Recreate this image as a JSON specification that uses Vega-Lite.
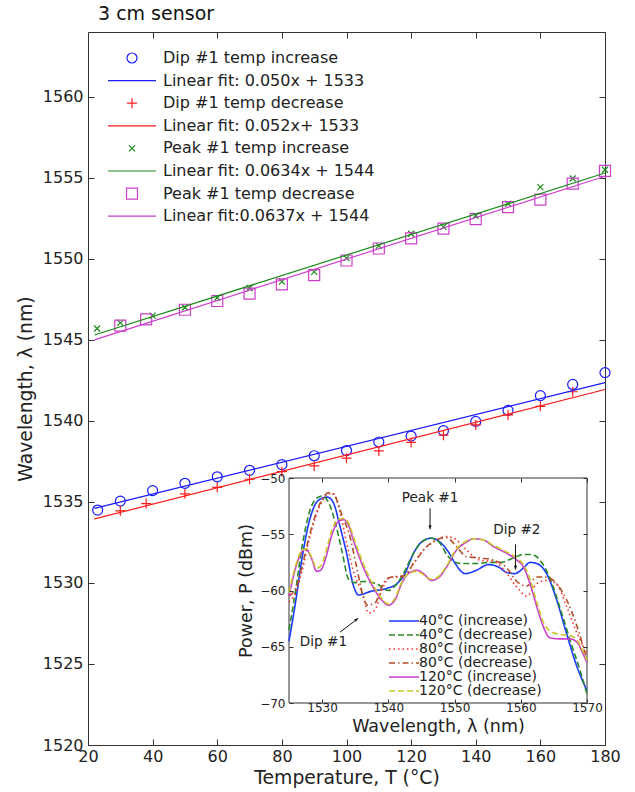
{
  "$schema": "https://vega.github.io/schema/vega-lite/v6.json",
  "autosize": "none",
  "width": 517,
  "height": 713,
  "padding": {"left": 88, "top": 32, "right": 30, "bottom": 47},
  "background": "white",
  "title": {"text": "3 cm sensor", "anchor": "start", "frame": "group", "fontSize": 19, "fontWeight": "normal", "font": "DejaVu Sans", "color": "#111", "dx": 10, "offset": 8},
  "config": {
    "font": "DejaVu Sans",
    "view": {"stroke": "#333", "strokeWidth": 1},
    "axis": {"grid": false, "labelFont": "DejaVu Sans", "titleFont": "DejaVu Sans", "labelColor": "#222", "titleColor": "#222", "tickColor": "#333", "titleFontWeight": "normal", "labelFlush": false, "labelOverlap": false},
    "legend": {"labelFont": "DejaVu Sans"}
  },
  "datasets": {
    "pts": [
      {"T": 23, "L": 1534.5, "s": "Dip #1 temp increase"},
      {"T": 30, "L": 1535.05, "s": "Dip #1 temp increase"},
      {"T": 40, "L": 1535.7, "s": "Dip #1 temp increase"},
      {"T": 50, "L": 1536.15, "s": "Dip #1 temp increase"},
      {"T": 60, "L": 1536.55, "s": "Dip #1 temp increase"},
      {"T": 70, "L": 1536.95, "s": "Dip #1 temp increase"},
      {"T": 80, "L": 1537.3, "s": "Dip #1 temp increase"},
      {"T": 90, "L": 1537.85, "s": "Dip #1 temp increase"},
      {"T": 100, "L": 1538.17, "s": "Dip #1 temp increase"},
      {"T": 110, "L": 1538.7, "s": "Dip #1 temp increase"},
      {"T": 120, "L": 1539.06, "s": "Dip #1 temp increase"},
      {"T": 130, "L": 1539.4, "s": "Dip #1 temp increase"},
      {"T": 140, "L": 1539.97, "s": "Dip #1 temp increase"},
      {"T": 150, "L": 1540.65, "s": "Dip #1 temp increase"},
      {"T": 160, "L": 1541.56, "s": "Dip #1 temp increase"},
      {"T": 170, "L": 1542.25, "s": "Dip #1 temp increase"},
      {"T": 180, "L": 1542.98, "s": "Dip #1 temp increase"},
      {"T": 30, "L": 1534.45, "s": "Dip #1 temp decrease"},
      {"T": 38, "L": 1534.9, "s": "Dip #1 temp decrease"},
      {"T": 50, "L": 1535.5, "s": "Dip #1 temp decrease"},
      {"T": 60, "L": 1535.9, "s": "Dip #1 temp decrease"},
      {"T": 70, "L": 1536.4, "s": "Dip #1 temp decrease"},
      {"T": 80, "L": 1536.87, "s": "Dip #1 temp decrease"},
      {"T": 90, "L": 1537.22, "s": "Dip #1 temp decrease"},
      {"T": 100, "L": 1537.7, "s": "Dip #1 temp decrease"},
      {"T": 110, "L": 1538.15, "s": "Dip #1 temp decrease"},
      {"T": 120, "L": 1538.67, "s": "Dip #1 temp decrease"},
      {"T": 130, "L": 1539.12, "s": "Dip #1 temp decrease"},
      {"T": 140, "L": 1539.75, "s": "Dip #1 temp decrease"},
      {"T": 150, "L": 1540.37, "s": "Dip #1 temp decrease"},
      {"T": 160, "L": 1540.9, "s": "Dip #1 temp decrease"},
      {"T": 170, "L": 1541.8, "s": "Dip #1 temp decrease"},
      {"T": 22.8, "L": 1545.7, "s": "Peak #1 temp increase"},
      {"T": 30, "L": 1546.05, "s": "Peak #1 temp increase"},
      {"T": 40, "L": 1546.5, "s": "Peak #1 temp increase"},
      {"T": 50, "L": 1547.0, "s": "Peak #1 temp increase"},
      {"T": 60, "L": 1547.6, "s": "Peak #1 temp increase"},
      {"T": 70, "L": 1548.2, "s": "Peak #1 temp increase"},
      {"T": 80, "L": 1548.6, "s": "Peak #1 temp increase"},
      {"T": 90, "L": 1549.2, "s": "Peak #1 temp increase"},
      {"T": 100, "L": 1550.05, "s": "Peak #1 temp increase"},
      {"T": 110, "L": 1550.8, "s": "Peak #1 temp increase"},
      {"T": 120, "L": 1551.55, "s": "Peak #1 temp increase"},
      {"T": 130, "L": 1551.97, "s": "Peak #1 temp increase"},
      {"T": 140, "L": 1552.66, "s": "Peak #1 temp increase"},
      {"T": 150, "L": 1553.4, "s": "Peak #1 temp increase"},
      {"T": 160, "L": 1554.43, "s": "Peak #1 temp increase"},
      {"T": 170, "L": 1554.96, "s": "Peak #1 temp increase"},
      {"T": 180, "L": 1555.5, "s": "Peak #1 temp increase"},
      {"T": 30, "L": 1545.88, "s": "Peak #1 temp decrease"},
      {"T": 38, "L": 1546.26, "s": "Peak #1 temp decrease"},
      {"T": 50, "L": 1546.86, "s": "Peak #1 temp decrease"},
      {"T": 60, "L": 1547.4, "s": "Peak #1 temp decrease"},
      {"T": 70, "L": 1547.86, "s": "Peak #1 temp decrease"},
      {"T": 80, "L": 1548.43, "s": "Peak #1 temp decrease"},
      {"T": 90, "L": 1549.0, "s": "Peak #1 temp decrease"},
      {"T": 100, "L": 1549.9, "s": "Peak #1 temp decrease"},
      {"T": 110, "L": 1550.64, "s": "Peak #1 temp decrease"},
      {"T": 120, "L": 1551.27, "s": "Peak #1 temp decrease"},
      {"T": 130, "L": 1551.87, "s": "Peak #1 temp decrease"},
      {"T": 140, "L": 1552.45, "s": "Peak #1 temp decrease"},
      {"T": 150, "L": 1553.19, "s": "Peak #1 temp decrease"},
      {"T": 160, "L": 1553.66, "s": "Peak #1 temp decrease"},
      {"T": 170, "L": 1554.64, "s": "Peak #1 temp decrease"},
      {"T": 180, "L": 1555.43, "s": "Peak #1 temp decrease"}
    ],
    "fits": [
      {"T": 22, "L": 1534.6, "s": "Linear fit: 0.050x + 1533"},
      {"T": 180, "L": 1542.36, "s": "Linear fit: 0.050x + 1533"},
      {"T": 22, "L": 1533.95, "s": "Linear fit: 0.052x+ 1533"},
      {"T": 180, "L": 1541.94, "s": "Linear fit: 0.052x+ 1533"},
      {"T": 22, "L": 1545.3, "s": "Linear fit: 0.0634x + 1544"},
      {"T": 180, "L": 1555.3, "s": "Linear fit: 0.0634x + 1544"},
      {"T": 22, "L": 1545.0, "s": "Linear fit:0.0637x + 1544"},
      {"T": 180, "L": 1555.1, "s": "Linear fit:0.0637x + 1544"}
    ],
    "spec": [
      {"w": 1525, "p": -64.5, "c": "40°C (increase)"}, {"w": 1526, "p": -61.0, "c": "40°C (increase)"}, {"w": 1527, "p": -57.0, "c": "40°C (increase)"}, {"w": 1528, "p": -54.0, "c": "40°C (increase)"}, {"w": 1529, "p": -52.3, "c": "40°C (increase)"}, {"w": 1530, "p": -51.8, "c": "40°C (increase)"}, {"w": 1530.8, "p": -51.7, "c": "40°C (increase)"}, {"w": 1531.7, "p": -52.2, "c": "40°C (increase)"}, {"w": 1532.7, "p": -54.3, "c": "40°C (increase)"}, {"w": 1533.7, "p": -56.7, "c": "40°C (increase)"}, {"w": 1534.7, "p": -59.5, "c": "40°C (increase)"}, {"w": 1535.5, "p": -60.4, "c": "40°C (increase)"}, {"w": 1537.2, "p": -60.1, "c": "40°C (increase)"}, {"w": 1539.8, "p": -59.8, "c": "40°C (increase)"}, {"w": 1541.3, "p": -59.4, "c": "40°C (increase)"}, {"w": 1542.5, "p": -58.5, "c": "40°C (increase)"}, {"w": 1543.8, "p": -56.7, "c": "40°C (increase)"}, {"w": 1545, "p": -55.7, "c": "40°C (increase)"}, {"w": 1546.5, "p": -55.35, "c": "40°C (increase)"}, {"w": 1547.8, "p": -55.7, "c": "40°C (increase)"}, {"w": 1549.1, "p": -56.6, "c": "40°C (increase)"}, {"w": 1550.1, "p": -57.6, "c": "40°C (increase)"}, {"w": 1551.6, "p": -58.5, "c": "40°C (increase)"}, {"w": 1553.3, "p": -58.2, "c": "40°C (increase)"}, {"w": 1555.1, "p": -57.7, "c": "40°C (increase)"}, {"w": 1556.6, "p": -57.9, "c": "40°C (increase)"}, {"w": 1557.9, "p": -58.4, "c": "40°C (increase)"}, {"w": 1559.1, "p": -58.5, "c": "40°C (increase)"}, {"w": 1560.4, "p": -58.0, "c": "40°C (increase)"}, {"w": 1561.4, "p": -57.5, "c": "40°C (increase)"}, {"w": 1562.4, "p": -57.6, "c": "40°C (increase)"}, {"w": 1563.9, "p": -58.5, "c": "40°C (increase)"}, {"w": 1565.4, "p": -60.8, "c": "40°C (increase)"}, {"w": 1566.9, "p": -63.8, "c": "40°C (increase)"}, {"w": 1568.5, "p": -66.8, "c": "40°C (increase)"}, {"w": 1570, "p": -68.9, "c": "40°C (increase)"},
      {"w": 1525, "p": -63.5, "c": "40°C (decrease)"}, {"w": 1526, "p": -60.0, "c": "40°C (decrease)"}, {"w": 1527, "p": -56.0, "c": "40°C (decrease)"}, {"w": 1528, "p": -53.2, "c": "40°C (decrease)"}, {"w": 1529, "p": -51.9, "c": "40°C (decrease)"}, {"w": 1530, "p": -51.6, "c": "40°C (decrease)"}, {"w": 1531, "p": -52.2, "c": "40°C (decrease)"}, {"w": 1532, "p": -54.0, "c": "40°C (decrease)"}, {"w": 1533, "p": -56.5, "c": "40°C (decrease)"}, {"w": 1534, "p": -59.0, "c": "40°C (decrease)"}, {"w": 1535, "p": -59.3, "c": "40°C (decrease)"}, {"w": 1536.2, "p": -59.2, "c": "40°C (decrease)"}, {"w": 1538.2, "p": -59.4, "c": "40°C (decrease)"}, {"w": 1540, "p": -60.0, "c": "40°C (decrease)"}, {"w": 1541, "p": -59.6, "c": "40°C (decrease)"}, {"w": 1542, "p": -58.8, "c": "40°C (decrease)"}, {"w": 1543.8, "p": -56.7, "c": "40°C (decrease)"}, {"w": 1545, "p": -55.7, "c": "40°C (decrease)"}, {"w": 1546.5, "p": -55.35, "c": "40°C (decrease)"}, {"w": 1547.8, "p": -55.8, "c": "40°C (decrease)"}, {"w": 1548.8, "p": -56.8, "c": "40°C (decrease)"}, {"w": 1549.8, "p": -57.4, "c": "40°C (decrease)"}, {"w": 1551, "p": -57.6, "c": "40°C (decrease)"}, {"w": 1553.3, "p": -57.6, "c": "40°C (decrease)"}, {"w": 1555.1, "p": -57.5, "c": "40°C (decrease)"}, {"w": 1556.9, "p": -57.5, "c": "40°C (decrease)"}, {"w": 1558.9, "p": -57.1, "c": "40°C (decrease)"}, {"w": 1560.4, "p": -56.8, "c": "40°C (decrease)"}, {"w": 1561.6, "p": -56.8, "c": "40°C (decrease)"}, {"w": 1562.9, "p": -57.3, "c": "40°C (decrease)"}, {"w": 1564.4, "p": -58.9, "c": "40°C (decrease)"}, {"w": 1565.9, "p": -61.5, "c": "40°C (decrease)"}, {"w": 1567.5, "p": -64.5, "c": "40°C (decrease)"}, {"w": 1569, "p": -67.2, "c": "40°C (decrease)"}, {"w": 1570, "p": -69.2, "c": "40°C (decrease)"},
      {"w": 1525, "p": -61.0, "c": "80°C (increase)"}, {"w": 1526, "p": -60.2, "c": "80°C (increase)"}, {"w": 1527, "p": -58.2, "c": "80°C (increase)"}, {"w": 1528, "p": -55.6, "c": "80°C (increase)"}, {"w": 1529, "p": -53.5, "c": "80°C (increase)"}, {"w": 1530, "p": -52.1, "c": "80°C (increase)"}, {"w": 1531, "p": -51.4, "c": "80°C (increase)"}, {"w": 1531.7, "p": -51.4, "c": "80°C (increase)"}, {"w": 1532.7, "p": -53.0, "c": "80°C (increase)"}, {"w": 1533.7, "p": -55.8, "c": "80°C (increase)"}, {"w": 1534.7, "p": -58.2, "c": "80°C (increase)"}, {"w": 1536.2, "p": -60.5, "c": "80°C (increase)"}, {"w": 1537, "p": -62.0, "c": "80°C (increase)"}, {"w": 1538, "p": -61.7, "c": "80°C (increase)"}, {"w": 1539, "p": -60.0, "c": "80°C (increase)"}, {"w": 1540.3, "p": -58.8, "c": "80°C (increase)"}, {"w": 1542.3, "p": -58.8, "c": "80°C (increase)"}, {"w": 1543.8, "p": -57.6, "c": "80°C (increase)"}, {"w": 1545.3, "p": -56.4, "c": "80°C (increase)"}, {"w": 1546.8, "p": -55.7, "c": "80°C (increase)"}, {"w": 1548.8, "p": -55.2, "c": "80°C (increase)"}, {"w": 1550.3, "p": -55.5, "c": "80°C (increase)"}, {"w": 1551.8, "p": -56.4, "c": "80°C (increase)"}, {"w": 1553.85, "p": -57.3, "c": "80°C (increase)"}, {"w": 1555.9, "p": -57.4, "c": "80°C (increase)"}, {"w": 1557.9, "p": -58.5, "c": "80°C (increase)"}, {"w": 1559.4, "p": -59.7, "c": "80°C (increase)"}, {"w": 1560.9, "p": -60.5, "c": "80°C (increase)"}, {"w": 1562.4, "p": -59.4, "c": "80°C (increase)"}, {"w": 1563.9, "p": -59.1, "c": "80°C (increase)"}, {"w": 1565.4, "p": -59.4, "c": "80°C (increase)"}, {"w": 1566.9, "p": -61.4, "c": "80°C (increase)"}, {"w": 1568.5, "p": -63.8, "c": "80°C (increase)"}, {"w": 1570, "p": -65.6, "c": "80°C (increase)"},
      {"w": 1525, "p": -60.5, "c": "80°C (decrease)"}, {"w": 1526, "p": -59.8, "c": "80°C (decrease)"}, {"w": 1527, "p": -57.8, "c": "80°C (decrease)"}, {"w": 1528, "p": -55.3, "c": "80°C (decrease)"}, {"w": 1529, "p": -53.3, "c": "80°C (decrease)"}, {"w": 1530, "p": -51.9, "c": "80°C (decrease)"}, {"w": 1531, "p": -51.3, "c": "80°C (decrease)"}, {"w": 1531.8, "p": -51.5, "c": "80°C (decrease)"}, {"w": 1533, "p": -53.3, "c": "80°C (decrease)"}, {"w": 1534.2, "p": -55.2, "c": "80°C (decrease)"}, {"w": 1535.2, "p": -57.9, "c": "80°C (decrease)"}, {"w": 1536.2, "p": -60.5, "c": "80°C (decrease)"}, {"w": 1536.8, "p": -61.3, "c": "80°C (decrease)"}, {"w": 1538, "p": -61.1, "c": "80°C (decrease)"}, {"w": 1539.2, "p": -59.4, "c": "80°C (decrease)"}, {"w": 1540.5, "p": -58.8, "c": "80°C (decrease)"}, {"w": 1542.3, "p": -58.7, "c": "80°C (decrease)"}, {"w": 1543.8, "p": -57.6, "c": "80°C (decrease)"}, {"w": 1545.8, "p": -56.1, "c": "80°C (decrease)"}, {"w": 1547.3, "p": -55.5, "c": "80°C (decrease)"}, {"w": 1548.8, "p": -55.3, "c": "80°C (decrease)"}, {"w": 1550.3, "p": -56.1, "c": "80°C (decrease)"}, {"w": 1551.8, "p": -57.0, "c": "80°C (decrease)"}, {"w": 1553.85, "p": -57.1, "c": "80°C (decrease)"}, {"w": 1555.9, "p": -57.3, "c": "80°C (decrease)"}, {"w": 1557.9, "p": -58.0, "c": "80°C (decrease)"}, {"w": 1559.4, "p": -59.2, "c": "80°C (decrease)"}, {"w": 1560.9, "p": -59.6, "c": "80°C (decrease)"}, {"w": 1562.4, "p": -58.8, "c": "80°C (decrease)"}, {"w": 1563.9, "p": -58.8, "c": "80°C (decrease)"}, {"w": 1565.4, "p": -59.4, "c": "80°C (decrease)"}, {"w": 1566.9, "p": -60.8, "c": "80°C (decrease)"}, {"w": 1568.5, "p": -63.2, "c": "80°C (decrease)"}, {"w": 1570, "p": -66.2, "c": "80°C (decrease)"},
      {"w": 1525, "p": -60.5, "c": "120°C (increase)"}, {"w": 1526, "p": -58.0, "c": "120°C (increase)"}, {"w": 1527, "p": -56.5, "c": "120°C (increase)"}, {"w": 1527.6, "p": -56.3, "c": "120°C (increase)"}, {"w": 1528.3, "p": -57.0, "c": "120°C (increase)"}, {"w": 1529.2, "p": -58.3, "c": "120°C (increase)"}, {"w": 1529.8, "p": -58.2, "c": "120°C (increase)"}, {"w": 1530.6, "p": -57.0, "c": "120°C (increase)"}, {"w": 1531.5, "p": -55.0, "c": "120°C (increase)"}, {"w": 1532.4, "p": -53.9, "c": "120°C (increase)"}, {"w": 1533.2, "p": -53.7, "c": "120°C (increase)"}, {"w": 1534, "p": -54.2, "c": "120°C (increase)"}, {"w": 1534.7, "p": -55.5, "c": "120°C (increase)"}, {"w": 1536.2, "p": -57.9, "c": "120°C (increase)"}, {"w": 1537.7, "p": -59.7, "c": "120°C (increase)"}, {"w": 1539, "p": -60.85, "c": "120°C (increase)"}, {"w": 1540, "p": -61.3, "c": "120°C (increase)"}, {"w": 1541, "p": -60.85, "c": "120°C (increase)"}, {"w": 1542, "p": -59.4, "c": "120°C (increase)"}, {"w": 1543, "p": -58.5, "c": "120°C (increase)"}, {"w": 1544.3, "p": -58.2, "c": "120°C (increase)"}, {"w": 1545.3, "p": -58.5, "c": "120°C (increase)"}, {"w": 1546.5, "p": -59.1, "c": "120°C (increase)"}, {"w": 1547.5, "p": -58.9, "c": "120°C (increase)"}, {"w": 1548.8, "p": -57.9, "c": "120°C (increase)"}, {"w": 1550.3, "p": -56.4, "c": "120°C (increase)"}, {"w": 1551.8, "p": -55.7, "c": "120°C (increase)"}, {"w": 1552.8, "p": -55.4, "c": "120°C (increase)"}, {"w": 1554.3, "p": -55.5, "c": "120°C (increase)"}, {"w": 1555.9, "p": -56.1, "c": "120°C (increase)"}, {"w": 1557.9, "p": -56.7, "c": "120°C (increase)"}, {"w": 1559.4, "p": -57.3, "c": "120°C (increase)"}, {"w": 1560.4, "p": -57.9, "c": "120°C (increase)"}, {"w": 1561.4, "p": -59.4, "c": "120°C (increase)"}, {"w": 1562.4, "p": -61.4, "c": "120°C (increase)"}, {"w": 1563.4, "p": -63.2, "c": "120°C (increase)"}, {"w": 1564.4, "p": -64.2, "c": "120°C (increase)"}, {"w": 1565.9, "p": -64.3, "c": "120°C (increase)"}, {"w": 1567.4, "p": -64.3, "c": "120°C (increase)"}, {"w": 1568.5, "p": -64.6, "c": "120°C (increase)"}, {"w": 1569.3, "p": -65.5, "c": "120°C (increase)"}, {"w": 1570, "p": -66.4, "c": "120°C (increase)"},
      {"w": 1525, "p": -60.2, "c": "120°C (decrease)"}, {"w": 1526, "p": -57.8, "c": "120°C (decrease)"}, {"w": 1527, "p": -56.4, "c": "120°C (decrease)"}, {"w": 1527.6, "p": -56.3, "c": "120°C (decrease)"}, {"w": 1528.3, "p": -56.9, "c": "120°C (decrease)"}, {"w": 1529.2, "p": -58.0, "c": "120°C (decrease)"}, {"w": 1529.8, "p": -57.8, "c": "120°C (decrease)"}, {"w": 1530.6, "p": -56.5, "c": "120°C (decrease)"}, {"w": 1531.5, "p": -54.6, "c": "120°C (decrease)"}, {"w": 1532.4, "p": -53.7, "c": "120°C (decrease)"}, {"w": 1533.2, "p": -53.6, "c": "120°C (decrease)"}, {"w": 1534, "p": -54.0, "c": "120°C (decrease)"}, {"w": 1534.7, "p": -55.2, "c": "120°C (decrease)"}, {"w": 1536.2, "p": -57.6, "c": "120°C (decrease)"}, {"w": 1537.7, "p": -59.5, "c": "120°C (decrease)"}, {"w": 1539, "p": -60.7, "c": "120°C (decrease)"}, {"w": 1540, "p": -61.2, "c": "120°C (decrease)"}, {"w": 1541, "p": -60.7, "c": "120°C (decrease)"}, {"w": 1542, "p": -59.3, "c": "120°C (decrease)"}, {"w": 1543, "p": -58.5, "c": "120°C (decrease)"}, {"w": 1544.3, "p": -58.3, "c": "120°C (decrease)"}, {"w": 1545.3, "p": -58.6, "c": "120°C (decrease)"}, {"w": 1546.5, "p": -59.0, "c": "120°C (decrease)"}, {"w": 1547.5, "p": -58.8, "c": "120°C (decrease)"}, {"w": 1548.8, "p": -57.8, "c": "120°C (decrease)"}, {"w": 1550.3, "p": -56.3, "c": "120°C (decrease)"}, {"w": 1551.8, "p": -55.6, "c": "120°C (decrease)"}, {"w": 1552.8, "p": -55.4, "c": "120°C (decrease)"}, {"w": 1554.3, "p": -55.5, "c": "120°C (decrease)"}, {"w": 1555.9, "p": -56.0, "c": "120°C (decrease)"}, {"w": 1557.9, "p": -56.6, "c": "120°C (decrease)"}, {"w": 1559.4, "p": -57.1, "c": "120°C (decrease)"}, {"w": 1560.4, "p": -57.7, "c": "120°C (decrease)"}, {"w": 1561.4, "p": -59.0, "c": "120°C (decrease)"}, {"w": 1562.4, "p": -61.0, "c": "120°C (decrease)"}, {"w": 1563.4, "p": -62.8, "c": "120°C (decrease)"}, {"w": 1564.4, "p": -63.6, "c": "120°C (decrease)"}, {"w": 1565.9, "p": -63.9, "c": "120°C (decrease)"}, {"w": 1567.4, "p": -64.0, "c": "120°C (decrease)"}, {"w": 1568.5, "p": -64.4, "c": "120°C (decrease)"}, {"w": 1569.3, "p": -65.3, "c": "120°C (decrease)"}, {"w": 1570, "p": -66.2, "c": "120°C (decrease)"}
    ]
  },
  "resolve": {"scale": {"x": "independent", "y": "independent", "color": "independent", "shape": "independent", "strokeDash": "independent"}},
  "layer": [
    {
      "data": {"name": "pts"},
      "mark": {"type": "point", "filled": false, "size": 100, "strokeWidth": 1.2, "opacity": 1},
      "encoding": {
        "x": {"field": "T", "type": "quantitative", "scale": {"domain": [20, 180], "nice": false, "zero": false},
          "axis": {"orient": "bottom", "values": [20, 40, 60, 80, 100, 120, 140, 160, 180], "format": "d", "domain": false, "tickSize": -6, "labelPadding": 9, "labelFontSize": 16, "title": "Temperature, T (°C)", "titleFontSize": 18.8, "titlePadding": 4}},
        "y": {"field": "L", "type": "quantitative", "scale": {"domain": [1520, 1564], "nice": false, "zero": false},
          "axis": {"orient": "left", "values": [1520, 1525, 1530, 1535, 1540, 1545, 1550, 1555, 1560], "format": "d", "domain": false, "tickSize": -6, "labelPadding": 11, "labelFontSize": 16, "title": "Wavelength, λ (nm)", "titleFontSize": 18.8, "titlePadding": 7}},
        "color": {"field": "s", "type": "nominal",
          "scale": {"domain": ["Dip #1 temp increase", "Linear fit: 0.050x + 1533", "Dip #1 temp decrease", "Linear fit: 0.052x+ 1533", "Peak #1 temp increase", "Linear fit: 0.0634x + 1544", "Peak #1 temp decrease", "Linear fit:0.0637x + 1544"],
            "range": ["#1a1aff", "#1a1aff", "#ff1a1a", "#ff1a1a", "#1a8a1a", "#1a8a1a", "#cc3fcc", "#cc3fcc"]},
          "legend": {"orient": "none", "legendX": 36, "legendY": 18, "title": null, "symbolSize": 100, "symbolStrokeWidth": 1.2, "labelFontSize": 16, "labelColor": "#222", "labelOffset": 23, "rowPadding": 6.6, "labelLimit": 400}},
        "shape": {"field": "s", "type": "nominal",
          "scale": {"domain": ["Dip #1 temp increase", "Linear fit: 0.050x + 1533", "Dip #1 temp decrease", "Linear fit: 0.052x+ 1533", "Peak #1 temp increase", "Linear fit: 0.0634x + 1544", "Peak #1 temp decrease", "Linear fit:0.0637x + 1544"],
            "range": ["circle", "M-4.8,0L4.8,0", "M-1,0L1,0M0,-1L0,1", "M-4.8,0L4.8,0", "M-0.6,-0.6L0.6,0.6M-0.6,0.6L0.6,-0.6", "M-4.8,0L4.8,0", "M-1.1,-1.1L1.1,-1.1L1.1,1.1L-1.1,1.1Z", "M-4.8,0L4.8,0"]},
          "legend": {"orient": "none", "legendX": 36, "legendY": 18, "title": null, "symbolSize": 100, "symbolStrokeWidth": 1.2, "labelFontSize": 16, "labelColor": "#222", "labelOffset": 23, "rowPadding": 6.6, "labelLimit": 400}}
      }
    },
    {
      "data": {"name": "fits"},
      "mark": {"type": "line", "strokeWidth": 1.2},
      "encoding": {
        "x": {"field": "T", "type": "quantitative", "scale": {"domain": [20, 180], "nice": false, "zero": false},
          "axis": {"orient": "top", "values": [20, 40, 60, 80, 100, 120, 140, 160, 180], "domain": false, "tickSize": -6, "labels": false, "title": null}},
        "y": {"field": "L", "type": "quantitative", "scale": {"domain": [1520, 1564], "nice": false, "zero": false},
          "axis": {"orient": "right", "values": [1520, 1525, 1530, 1535, 1540, 1545, 1550, 1555, 1560], "domain": false, "tickSize": -6, "labels": false, "title": null}},
        "color": {"field": "s", "type": "nominal",
          "scale": {"domain": ["Dip #1 temp increase", "Linear fit: 0.050x + 1533", "Dip #1 temp decrease", "Linear fit: 0.052x+ 1533", "Peak #1 temp increase", "Linear fit: 0.0634x + 1544", "Peak #1 temp decrease", "Linear fit:0.0637x + 1544"],
            "range": ["#1a1aff", "#1a1aff", "#ff1a1a", "#ff1a1a", "#1a8a1a", "#1a8a1a", "#cc3fcc", "#cc3fcc"]},
          "legend": null}
      }
    },
    {
      "data": {"values": [{"a": 1525, "b": 1570, "lo": -70, "hi": -50}]},
      "mark": {"type": "rect", "fill": "white", "stroke": "#333", "strokeWidth": 1},
      "encoding": {
        "x": {"field": "a", "type": "quantitative", "scale": {"domain": [1525, 1570], "range": [201, 499], "nice": false, "zero": false},
          "axis": {"orient": "bottom", "offset": -42, "zindex": 2, "values": [1530, 1540, 1550, 1560, 1570], "format": "d", "domain": false, "tickSize": -4, "labelPadding": 3, "labelFontSize": 12, "title": "Wavelength, λ (nm)", "titleFontSize": 17.5, "titlePadding": 4}},
        "x2": {"field": "b"},
        "y": {"field": "lo", "type": "quantitative", "scale": {"domain": [-70, -50], "range": [671, 446], "nice": false, "zero": false},
          "axis": {"orient": "left", "offset": -201, "zindex": 2, "values": [-70, -65, -60, -55, -50], "format": "d", "domain": false, "tickSize": -4, "labelPadding": 8, "labelFontSize": 12, "title": "Power, P (dBm)", "titleFontSize": 17.5, "titlePadding": 4}},
        "y2": {"field": "hi"}
      }
    },
    {
      "data": {"name": "spec"},
      "mark": {"type": "line", "strokeWidth": 1.6, "interpolate": "monotone"},
      "encoding": {
        "x": {"field": "w", "type": "quantitative", "scale": {"domain": [1525, 1570], "range": [201, 499], "nice": false, "zero": false},
          "axis": {"orient": "top", "offset": -446, "zindex": 2, "values": [1530, 1540, 1550, 1560, 1570], "domain": false, "tickSize": -4, "labels": false, "title": null}},
        "y": {"field": "p", "type": "quantitative", "scale": {"domain": [-70, -50], "range": [671, 446], "nice": false, "zero": false},
          "axis": {"orient": "right", "offset": -18, "zindex": 2, "values": [-70, -65, -60, -55, -50], "domain": false, "tickSize": -4, "labels": false, "title": null}},
        "color": {"field": "c", "type": "nominal",
          "scale": {"domain": ["40°C (increase)", "40°C (decrease)", "80°C (increase)", "80°C (decrease)", "120°C (increase)", "120°C (decrease)"],
            "range": ["#1a3aff", "#2a8a2a", "#ff2a2a", "#b0502a", "#cc3fcc", "#c8c82a"]},
          "legend": {"orient": "none", "legendX": 309, "legendY": 582, "title": null, "symbolSize": 100, "symbolType": "M-3,0L3,0", "symbolStrokeWidth": 1.6, "labelFontSize": 14, "labelColor": "#222", "labelOffset": 8, "rowPadding": -1, "labelLimit": 300}},
        "strokeDash": {"field": "c", "type": "nominal",
          "scale": {"domain": ["40°C (increase)", "40°C (decrease)", "80°C (increase)", "80°C (decrease)", "120°C (increase)", "120°C (decrease)"],
            "range": [[1, 0], [6, 3], [1.5, 3], [6, 3, 1.5, 3], [1, 0], [6, 3]]},
          "legend": {"orient": "none", "legendX": 309, "legendY": 582, "title": null, "symbolSize": 100, "symbolType": "M-3,0L3,0", "symbolStrokeWidth": 1.6, "labelFontSize": 14, "labelColor": "#222", "labelOffset": 8, "rowPadding": -1, "labelLimit": 300}}
      }
    },
    {
      "data": {"values": [
        {"w": 1546.3, "p": -51.8, "t": "Peak #1"},
        {"w": 1559.4, "p": -54.6, "t": "Dip #2"},
        {"w": 1530.2, "p": -64.6, "t": "Dip #1"}
      ]},
      "mark": {"type": "text", "fontSize": 13.6, "color": "#222", "align": "center", "baseline": "middle"},
      "encoding": {
        "x": {"field": "w", "type": "quantitative", "scale": {"domain": [1525, 1570], "range": [201, 499], "nice": false, "zero": false}, "axis": null},
        "y": {"field": "p", "type": "quantitative", "scale": {"domain": [-70, -50], "range": [671, 446], "nice": false, "zero": false}, "axis": null},
        "text": {"field": "t"}
      }
    },
    {
      "data": {"values": [
        {"w": 1546.3, "p": -52.7, "w2": 1546.3, "p2": -54.5},
        {"w": 1559.2, "p": -55.9, "w2": 1559.2, "p2": -58.1},
        {"w": 1532.7, "p": -63.7, "w2": 1535.4, "p2": -62.5}
      ]},
      "mark": {"type": "rule", "strokeWidth": 1, "color": "#111"},
      "encoding": {
        "x": {"field": "w", "type": "quantitative", "scale": {"domain": [1525, 1570], "range": [201, 499], "nice": false, "zero": false}, "axis": null},
        "y": {"field": "p", "type": "quantitative", "scale": {"domain": [-70, -50], "range": [671, 446], "nice": false, "zero": false}, "axis": null},
        "x2": {"field": "w2"},
        "y2": {"field": "p2"}
      }
    },
    {
      "data": {"values": [
        {"w": 1546.3, "p": -54.6},
        {"w": 1559.2, "p": -58.2}
      ]},
      "mark": {"type": "point", "shape": "M0,0L-0.75,2.2L0.75,2.2Z", "size": 16, "filled": true, "color": "#111", "opacity": 1, "angle": 180},
      "encoding": {
        "x": {"field": "w", "type": "quantitative", "scale": {"domain": [1525, 1570], "range": [201, 499], "nice": false, "zero": false}, "axis": null},
        "y": {"field": "p", "type": "quantitative", "scale": {"domain": [-70, -50], "range": [671, 446], "nice": false, "zero": false}, "axis": null}
      }
    },
    {
      "data": {"values": [
        {"w": 1535.5, "p": -62.45}
      ]},
      "mark": {"type": "point", "shape": "M0,0L-0.75,2.2L0.75,2.2Z", "size": 16, "filled": true, "color": "#111", "opacity": 1, "angle": 54},
      "encoding": {
        "x": {"field": "w", "type": "quantitative", "scale": {"domain": [1525, 1570], "range": [201, 499], "nice": false, "zero": false}, "axis": null},
        "y": {"field": "p", "type": "quantitative", "scale": {"domain": [-70, -50], "range": [671, 446], "nice": false, "zero": false}, "axis": null}
      }
    }
  ]
}
